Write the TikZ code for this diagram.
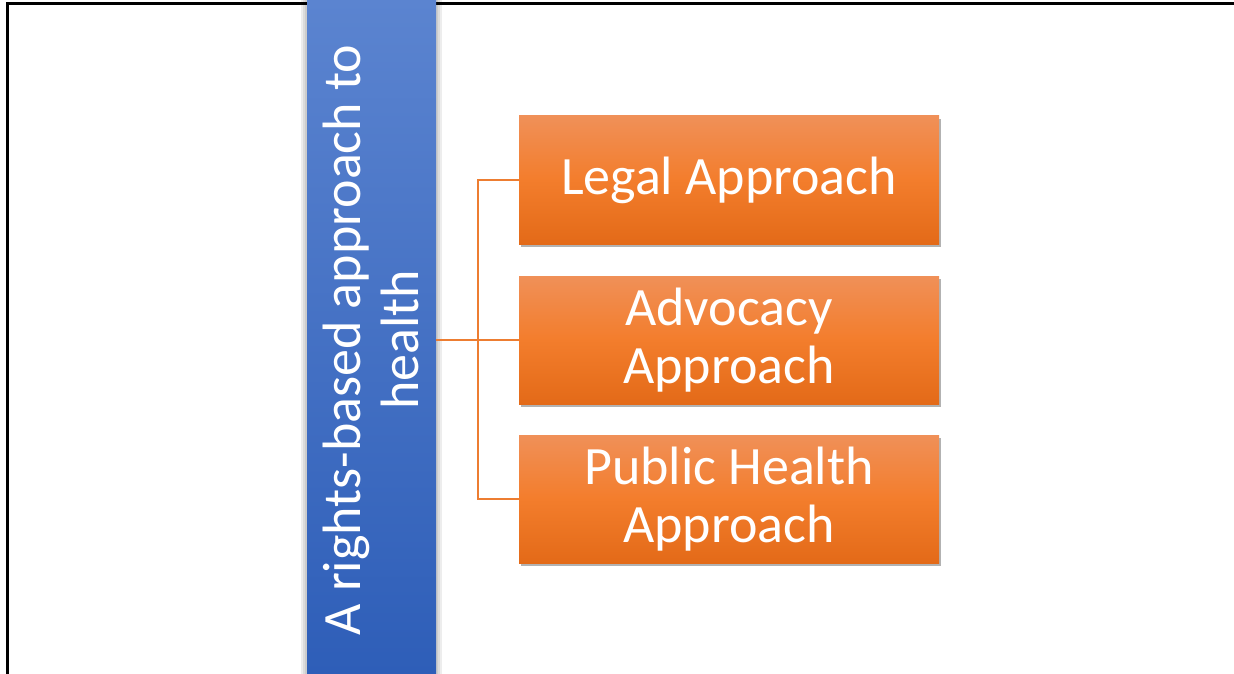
\documentclass[tikz,border=0pt]{standalone}
\usepackage{fontspec}
\setmainfont{Carlito}
\usetikzlibrary{shadows}
\definecolor{blueT}{HTML}{5B84D0}
\definecolor{blueB}{HTML}{2E5EB8}
\definecolor{orT}{HTML}{F09058}
\definecolor{orM}{HTML}{F37D2C}
\definecolor{orB}{HTML}{E36A18}
\definecolor{conn}{HTML}{ED7D31}
\tikzset{
  appbox/.style={rectangle, minimum width=420pt, minimum height=128pt, inner sep=0pt,
    top color=orT, bottom color=orB, middle color=orM, text=white, align=center,
    font=\fontsize{54}{58}\selectfont,
    drop shadow={shadow xshift=2pt, shadow yshift=-3pt, opacity=0.3, fill=black}},
  link/.style={draw=conn, line width=2pt},
  frame/.style={line width=3pt, black},
  softsh/.style={fill=black, opacity=0.07}
}
\begin{document}
\begin{tikzpicture}[x=1pt,y=-1pt]
\useasboundingbox (0,0) rectangle (1234,674);
\draw[frame] (7,674) -- (7,4) -- (1234,4);
\fill[softsh] (301,0) rectangle (442,674);
\fill[softsh] (303,0) rectangle (440,674);
\fill[softsh] (305,0) rectangle (438,674);
\shade[top color=blueT, bottom color=blueB] (307,0) rectangle (436,674);
\coordinate (barR) at (436,340);
\node[text=white, rotate=90, align=center, font=\fontsize{54}{58}\selectfont] (main) at (370.5,340) {A rights-based approach to\\health};
\node[appbox] (legal) at (729,180) {Legal Approach};
\node[appbox] (adv) at (729,340) {Advocacy\\Approach};
\node[appbox] (pub) at (729,499) {Public Health\\Approach};
\coordinate (j) at (478,340);
\draw[link] (barR) -- (j);
\draw[link] (j) |- (legal.west);
\draw[link] (j) |- (pub.west);
\draw[link] (j) -- (adv.west);
\end{tikzpicture}
\end{document}
